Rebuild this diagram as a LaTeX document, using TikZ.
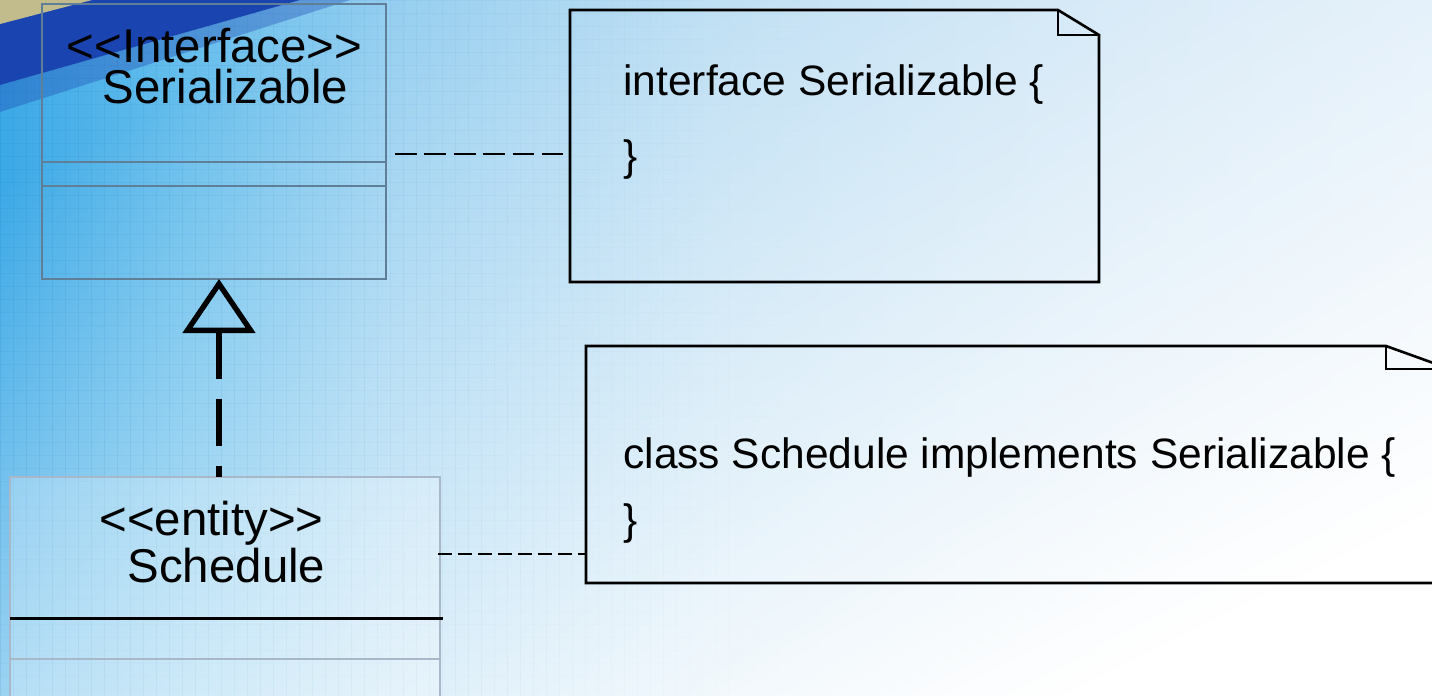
\documentclass[tikz,border=0pt]{standalone}
\usepackage{fontspec}
\setmainfont{Liberation Sans}
\usetikzlibrary{arrows.meta,fadings}
\definecolor{bgA}{HTML}{36A6E6}
\definecolor{bgB}{HTML}{66BEEC}
\definecolor{bgC}{HTML}{94CEF0}
\definecolor{bgD}{HTML}{B4DAF2}
\definecolor{bgE}{HTML}{C4E0F4}
\definecolor{bgF}{HTML}{CCE4F6}
\definecolor{navy}{HTML}{1A44B0}
\definecolor{beige}{HTML}{C2BC8C}
\definecolor{gridc}{HTML}{1A6AAA}
\definecolor{serline}{HTML}{5F7F98}
\definecolor{schline}{HTML}{A8B8C8}
\pgfdeclarehorizontalshading{bgsh}{100bp}{color(0bp)=(bgA); color(25bp)=(bgA); color(32bp)=(bgB); color(39bp)=(bgC); color(50bp)=(bgD); color(64bp)=(bgE); color(75bp)=(bgF); color(100bp)=(bgF)}
\tikzfading[name=bgfade, top color=transparent!100, middle color=transparent!74, bottom color=transparent!0]
\newcommand\umlL{<\kern0pt<}
\newcommand\umlR{>\kern0pt>}
\tikzset{
  classbox/.style={rectangle, inner sep=0pt, outer sep=0pt},
  notebox/.style={rectangle, inner sep=0pt, outer sep=0pt},
  noteline/.style={draw=black, line width=1.3pt, line join=miter},
  lbl/.style={font=\fontsize{23.7pt}{28pt}\selectfont, inner sep=0pt, anchor=base},
  ntxt/.style={font=\fontsize{21.25pt}{26pt}\selectfont, inner sep=0pt, anchor=base west},
  link1/.style={draw=black, line width=1.35pt, dash pattern=on 10.85pt off 3.85pt},
  link2/.style={draw=black, line width=1.1pt, dash pattern=on 7pt off 3pt},
  realize/.style={draw=black, line width=3pt, dash pattern=on 23.5pt off 10pt,
    {Triangle[open, length=27pt, width=36pt, line width=2.7pt]}-}
}
\begin{document}
\begin{tikzpicture}[x=0.5pt, y=-0.5pt]
\useasboundingbox (0,0) rectangle (1432,696);
\clip (0,0) rectangle (1432,696);
% background
\shade[shading=bgsh] (-20,-20) rectangle (1452,716);
\fill[white, path fading=bgfade, fading angle=45] (-20,-20) rectangle (1452,716);
\foreach \x in {0,13,...,780} {
  \pgfmathsetmacro\op{0.10*(1-\x/780)}
  \draw[gridc, opacity=\op, line width=0.5pt] (\x,0) -- (\x,696);
}
\foreach \y in {0,13,...,696} {
  \foreach \k in {0,...,7} {
    \pgfmathsetmacro\op{0.09*(1-\y/900)*(1-\k/8)}
    \draw[gridc, opacity=\op, line width=0.5pt] (\k*100,\y) -- (\k*100+100,\y);
  }
}
\fill[navy, opacity=0.35] (0,85) -- (300,0) -- (350,0) -- (0,112) -- cycle;
\fill[navy] (0,22) -- (90,0) -- (300,0) -- (0,85) -- cycle;
\fill[beige] (0,0) -- (92,0) -- (0,24) -- cycle;

% class boxes
\node[classbox, draw=serline, line width=0.6pt, minimum width=172pt, minimum height=137.5pt] (ser) at (214,141.5) {};
\draw[serline, line width=0.6pt] (ser.west |- 0,162) -- (ser.east |- 0,162);
\draw[serline, line width=0.6pt] (ser.west |- 0,186) -- (ser.east |- 0,186);
\node[lbl] (serst) at (214.5,62) {\umlL Interface\umlR};
\node[lbl] (sernm) at (225.5,103) {Serializable};

\node[classbox, draw=schline, fill=white, fill opacity=0.25, line width=0.6pt, minimum width=215pt, minimum height=126.5pt] (sch) at (225,603.5) {};
\draw[black, line width=1.5pt] (sch.west |- 0,618) -- ++(433,0);
\draw[schline, line width=0.6pt] (sch.west |- 0,659) -- (sch.east |- 0,659);
\node[lbl] (schst) at (211.5,535) {\umlL entity\umlR};
\node[lbl] (schnm) at (226.5,582) {Schedule};

% notes
\node[notebox, minimum width=264.5pt, minimum height=136pt] (n1) at (834.5,146) {};
\draw[noteline] (n1.north west) -- ([xshift=-20.5pt]n1.north east) -- ([yshift=-12.5pt]n1.north east) -- (n1.south east) -- (n1.south west) -- cycle;
\draw[noteline] ([xshift=-20.5pt]n1.north east) -- ([xshift=-20.5pt,yshift=-12.5pt]n1.north east) -- ([yshift=-12.5pt]n1.north east);
\node[ntxt] (n1a) at (623,95) {interface Serializable \{};
\node[ntxt] (n1b) at (623,170) {\}};

\node[notebox, minimum width=432pt, minimum height=118.5pt] (n2) at (1018,464.5) {};
\draw[noteline] (n2.north west) -- ([xshift=-32pt]n2.north east) -- ([yshift=-11.5pt]n2.north east) -- (n2.south east) -- (n2.south west) -- cycle;
\draw[noteline] ([xshift=-32pt]n2.north east) -- ([xshift=-32pt,yshift=-11.5pt]n2.north east) -- ([yshift=-11.5pt]n2.north east);
\node[ntxt] (n2a) at (623,468) {class Schedule implements Serializable \{};
\node[ntxt] (n2b) at (623,534) {\}};

% connectors
\coordinate (c1) at (395,154);
\draw[link1] (c1) -- ([xshift=-3.5pt]c1 -| n1.west);
\coordinate (c2) at (438,554);
\draw[link2] (c2) -- (c2 -| n2.west);
\draw[realize] (ser.south -| 219,0) -- (sch.north -| 219,0);
\end{tikzpicture}
\end{document}
